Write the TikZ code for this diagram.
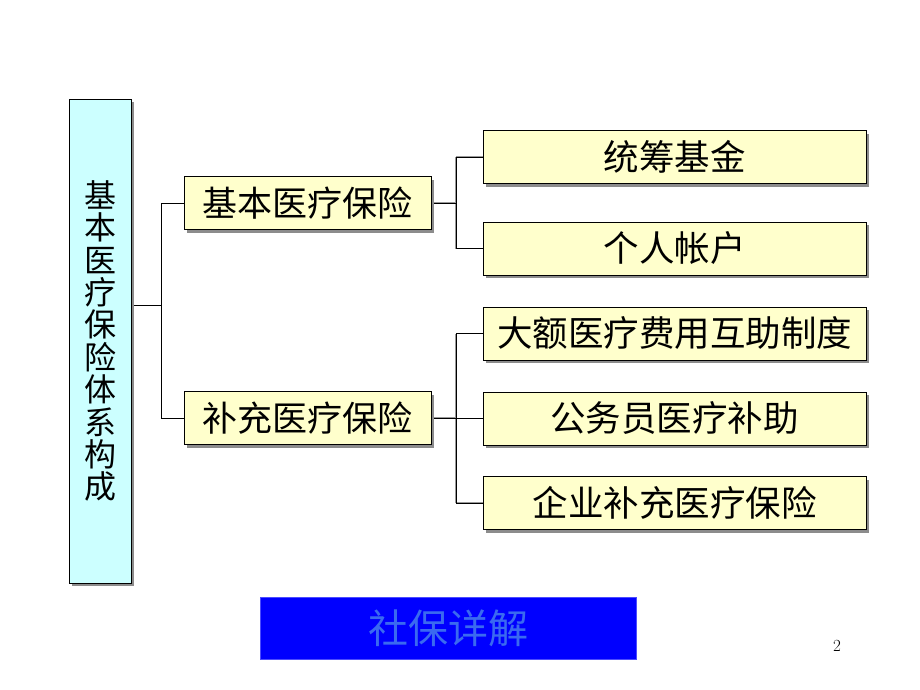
\documentclass[tikz,border=0pt]{standalone}
\usepackage{fontspec}
\newfontfamily\cjk{Noto Sans CJK SC}
\usetikzlibrary{shadows}
\definecolor{rootfill}{HTML}{CCFFFF}
\definecolor{boxfill}{HTML}{FFFFCC}
\definecolor{titleblue}{HTML}{0000FF}
\definecolor{titletext}{HTML}{3A6AF0}
\begin{document}
\begin{tikzpicture}[x=1pt,y=-1pt,
  boxbase/.style={draw=black, line width=0.8pt, inner sep=0pt, anchor=center,
    drop shadow={shadow xshift=3pt, shadow yshift=-3pt, fill=black!45, opacity=1}},
  rootbox/.style={boxbase, fill=rootfill, minimum width=62pt, minimum height=484pt,
    align=center, font=\cjk\fontsize{32}{32.4}\selectfont},
  midbox/.style={boxbase, fill=boxfill, minimum width=247pt, minimum height=53pt,
    font=\cjk\fontsize{35}{38}\selectfont},
  leafbox/.style={boxbase, fill=boxfill, minimum width=383pt, minimum height=53pt,
    font=\cjk\fontsize{35.5}{38}\selectfont},
  conn/.style={draw=black, line width=0.8pt},
  connsh/.style={draw=black!40, line width=1.2pt}
]
\useasboundingbox (0,0) rectangle (920,690);
\fill[white] (0,0) rectangle (920,690);

\coordinate (j1) at (161,305);
\coordinate (j2) at (456,203);
\coordinate (j3) at (456,418);

% named nodes (positions for connectors)
\node[rootbox] (root) at (100,341) {基\\本\\医\\疗\\保\\险\\体\\系\\构\\成};
\node[midbox] (m1) at (307.5,203) {基本医疗保险};
\node[midbox] (m2) at (307.5,418) {补充医疗保险};
\node[leafbox] (l1) at (674.5,157) {统筹基金};
\node[leafbox] (l2) at (674.5,248.5) {个人帐户};
\node[leafbox] (l3) at (674.5,333.5) {大额医疗费用互助制度};
\node[leafbox] (l4) at (674.5,418.5) {公务员医疗补助};
\node[leafbox] (l5) at (674.5,503) {企业补充医疗保险};

% connector shadows
\begin{scope}[shift={(2,2)}]
\draw[connsh] (m1.east) -- (j2);
\draw[connsh] (j2 |- l1.west) -- (j2 |- l2.west);
\draw[connsh] (j2 |- l1.west) -- (l1.west);
\draw[connsh] (j2 |- l2.west) -- (l2.west);
\draw[connsh] (m2.east) -- (j3);
\draw[connsh] (j3 |- l3.west) -- (j3 |- l5.west);
\draw[connsh] (j3 |- l3.west) -- (l3.west);
\draw[connsh] (j3 |- l4.west) -- (l4.west);
\draw[connsh] (j3 |- l5.west) -- (l5.west);
\end{scope}

% connectors
\draw[conn] (root.east |- j1) -- (j1);
\draw[conn] (j1 |- m1.west) -- (m1.west);
\draw[conn] (j1 |- m1.west) -- (j1 |- m2.west) -- (m2.west);
\draw[conn] (m1.east) -- (j2);
\draw[conn] (j2 |- l1.west) -- (l1.west);
\draw[conn] (j2 |- l1.west) -- (j2 |- l2.west) -- (l2.west);
\draw[conn] (m2.east) -- (j3);
\draw[conn] (j3 |- l3.west) -- (l3.west);
\draw[conn] (j3 |- l4.west) -- (l4.west);
\draw[conn] (j3 |- l3.west) -- (j3 |- l5.west) -- (l5.west);

% boxes redrawn on top of connector shadows
\node[rootbox] at (root) {基\\本\\医\\疗\\保\\险\\体\\系\\构\\成};
\node[midbox] at (m1) {基本医疗保险};
\node[midbox] at (m2) {补充医疗保险};
\node[leafbox] at (l1) {统筹基金};
\node[leafbox] at (l2) {个人帐户};
\node[leafbox] at (l3) {大额医疗费用互助制度};
\node[leafbox] at (l4) {公务员医疗补助};
\node[leafbox] at (l5) {企业补充医疗保险};

\node[fill=titleblue, draw=blue!70!white, line width=0.5pt, minimum width=376pt, minimum height=62pt,
  inner sep=0pt, text=titletext, font=\cjk\fontsize{40}{42}\selectfont] (title) at (448,628) {社保详解};
\node[font=\fontsize{17}{20}\selectfont, inner sep=0pt] (pg) at (837,646) {2};
\end{tikzpicture}
\end{document}
